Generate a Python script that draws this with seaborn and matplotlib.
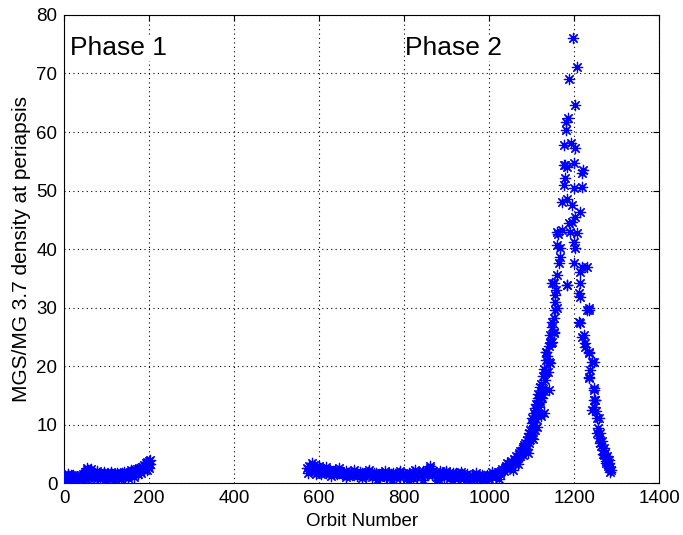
import matplotlib
matplotlib.use("Agg")
import matplotlib.pyplot as plt
import seaborn as sns
import pandas as pd
import numpy as np

# ---- data ----
phase1_orbit = [3, 6, 8, 11, 13, 16, 18, 21, 24, 33, 36, 39, 41, 44, 47, 49, 52, 54, 57, 59,
                62, 64, 67, 70, 72, 75, 78, 80, 83, 86, 88, 91, 94, 96, 99, 102, 104, 107, 110, 112,
                115, 118, 120, 123, 126, 128, 131, 134, 136, 139, 142, 144, 147, 150, 152, 155, 158, 160, 163, 166,
                168, 171, 174, 176, 179, 182, 184, 187, 190, 192, 194, 196, 198, 200, 202,
                5, 10, 15, 20, 38, 46, 51, 56, 61, 66, 74, 82, 90, 98, 106, 114, 122, 130, 138, 146,
                154, 162, 170, 178, 186, 189, 193, 197, 199,
                4, 9, 14, 43, 48, 53, 58, 63, 69, 77, 85, 93, 101, 109, 117, 125, 133, 141, 149, 157,
                165, 173, 181, 188, 195, 201]
phase1_density = [1.2, 0.9, 1.4, 0.8, 1.1, 1.3, 0.7, 1.0, 0.6, 0.5, 0.9, 1.3, 0.8, 1.5, 1.2, 1.9, 1.6, 2.3, 1.8, 2.1,
                  1.5, 1.9, 1.3, 1.7, 1.2, 1.6, 1.4, 1.1, 1.7, 1.3, 1.0, 1.5, 1.2, 1.6, 1.1, 1.4, 0.9, 1.5, 1.2, 1.6,
                  1.0, 1.3, 1.6, 1.1, 1.4, 0.9, 1.5, 1.2, 1.7, 1.3, 1.0, 1.6, 1.3, 1.8, 1.4, 1.9, 1.5, 2.0, 1.7, 2.2,
                  1.8, 2.4, 2.0, 2.6, 2.2, 2.8, 2.4, 3.1, 2.7, 3.4, 2.9, 3.6, 3.1, 2.5, 3.3,
                  0.6, 1.2, 0.9, 1.3, 1.0, 1.0, 1.3, 2.2, 1.8, 1.5, 1.3, 1.5, 1.2, 1.4, 1.2, 1.4, 1.3, 1.2, 1.5, 1.5,
                  1.6, 1.8, 2.0, 2.4, 2.6, 3.0, 3.0, 2.8, 3.7,
                  0.4, 1.6, 0.5, 0.6, 0.7, 2.6, 0.9, 2.4, 0.8, 2.0, 0.7, 1.9, 0.6, 1.9, 0.6, 1.8, 0.7, 1.9, 0.8, 2.3,
                  1.1, 1.5, 1.7, 2.2, 2.3, 4.0]

phase2_orbit = [572, 575, 578, 581, 584, 587, 590, 593, 596, 599, 602, 605, 608, 611, 614, 617, 620, 623, 626, 629,
                632, 635, 638, 641, 644, 647, 650, 653, 656, 659, 662, 665, 668, 671, 674, 677, 680, 683, 686, 689,
                692, 695, 698, 701, 704, 707, 710, 713, 716, 719, 722, 725, 728, 731, 734, 737, 740, 743, 746, 749,
                752, 755, 758, 761, 764, 767, 770, 773, 776, 779, 782, 785, 788, 791, 794, 797, 800, 803, 806, 809,
                812, 815, 818, 821, 824, 827, 830, 833, 836, 839, 842, 845, 848, 851, 854, 857, 860, 863, 866, 869,
                872, 875, 878, 881, 884, 887, 890, 893, 896, 899, 902, 905, 908, 911, 914, 917, 920, 923, 926, 929,
                932, 935, 938, 941, 944, 947, 950, 953, 956, 959, 962, 965, 968, 971, 974, 977, 980, 983, 986, 989,
                992, 995, 998, 1001, 1004, 1007, 1010, 1013, 1016, 1019, 1022, 1025, 1028, 1031, 1034, 1037, 1040, 1043, 1046, 1049,
                1052, 1055, 1058, 1061, 1064, 1067, 1070, 1073, 1076, 1079, 1082, 1085, 1088, 1091, 1094, 1097, 1100, 1102, 1104, 1106,
                1108, 1110, 1112, 1114, 1116, 1118, 1120, 1122, 1124, 1126, 1128, 1131, 1133, 1135, 1135, 1137, 1140, 1141, 1143, 1145,
                1147, 1147, 1149, 1152, 1152, 1154, 1154, 1152, 1156, 1159, 1157, 1160, 1164, 1166, 1166, 1159, 1159, 1171, 1162, 1171,
                1176, 1178, 1176, 1178, 1183, 1176, 1180, 1180, 1185, 1187, 1192, 1183, 1183, 1187, 1190, 1195, 1195, 1197, 1199, 1199,
                1199, 1199, 1201, 1201, 1202, 1202, 1206, 1206, 1211, 1213, 1213, 1213, 1213, 1218, 1218, 1218, 1220, 1213, 1223, 1225,
                1230, 1235, 1235, 1235, 1237, 1242, 1235, 1246, 1249, 1246, 1246, 1254, 1252, 1256, 1258, 1260, 1262, 1265, 1268, 1270,
                1272, 1274, 1276, 1278, 1280, 1282, 1284, 1285, 1283,
                1105, 1110, 1115, 1120, 1125, 1130, 1138, 1107, 1100, 1128, 1119, 1140, 1131, 1143, 1135, 1143, 1152, 1147, 1183,
                1211, 1230, 1218, 1225, 1235, 1246, 1235, 1246, 1249, 1242, 1258, 1254, 1090, 1095, 1098, 1112, 1117, 1122, 1127,
                1264, 1267, 1271, 1275, 1279, 1281, 1286, 580, 600, 640, 700, 760, 820, 880, 940, 1000, 1060, 1066, 1072, 1078, 1084,
                574, 583, 592, 604, 616, 628, 646, 664, 682, 700, 718, 736, 754, 772, 790, 808, 826, 844, 862, 880,
                898, 916, 934, 952, 970, 988, 1006, 1024, 1042, 1056, 1068, 1080, 1092, 1103, 1113, 1123]
phase2_density = [2.6, 3.0, 2.2, 2.8, 2.4, 3.1, 2.5, 2.1, 2.7, 2.3, 2.6, 2.0, 2.4, 1.9, 2.3, 1.8, 2.2, 1.9, 2.3, 1.7,
                  2.1, 1.8, 2.2, 1.6, 2.0, 1.7, 2.1, 1.5, 1.9, 1.6, 2.0, 1.4, 1.8, 1.5, 1.9, 1.3, 1.7, 1.4, 1.8, 1.2,
                  1.6, 1.9, 1.3, 1.7, 1.4, 1.8, 1.2, 1.6, 1.9, 1.3, 1.5, 1.1, 1.7, 1.4, 1.8, 1.2, 1.6, 1.0, 1.5, 1.8,
                  1.2, 1.6, 1.1, 1.4, 1.7, 1.0, 1.5, 1.8, 1.2, 1.6, 0.9, 1.4, 1.7, 1.1, 1.5, 1.8, 1.2, 1.6, 0.9, 1.4,
                  1.8, 1.1, 1.5, 1.9, 1.2, 1.6, 1.0, 1.5, 1.9, 1.3, 1.7, 2.1, 1.5, 2.0, 1.6, 2.3, 2.9, 1.8, 1.4, 2.0,
                  1.5, 1.9, 1.1, 1.6, 2.0, 1.3, 1.7, 1.0, 1.5, 1.9, 1.2, 1.6, 0.9, 1.4, 1.8, 1.1, 1.5, 1.7, 1.0, 1.4,
                  1.2, 1.6, 0.9, 1.3, 1.1, 1.5, 0.8, 1.2, 1.0, 1.4, 0.8, 1.1, 1.3, 0.9, 1.2, 0.8, 1.1, 1.4, 0.9, 1.2,
                  1.0, 1.3, 0.9, 1.2, 1.4, 1.0, 1.3, 1.6, 1.2, 1.5, 1.9, 1.5, 2.0, 2.4, 2.0, 2.6, 3.0, 2.6, 3.3, 3.0,
                  3.7, 3.4, 4.2, 3.8, 4.6, 4.3, 5.1, 5.5, 5.0, 6.1, 6.5, 6.0, 7.3, 7.8, 8.6, 9.0, 10.2, 11.1, 10.5, 12.0,
                  12.9, 13.5, 13.3, 14.6, 15.2, 14.2, 16.5, 17.0, 15.9, 18.3, 19.5, 17.6, 21.0, 19.0, 22.4, 21.8, 20.7, 23.5, 25.3, 24.0,
                  26.7, 24.1, 27.5, 28.2, 25.8, 29.6, 32.1, 34.2, 31.0, 29.9, 33.0, 35.5, 37.6, 38.6, 40.2, 40.7, 42.9, 43.2, 42.5, 48.0,
                  50.9, 52.1, 54.4, 54.4, 54.0, 57.8, 60.3, 61.7, 62.4, 69.0, 58.1, 48.5, 33.8, 44.4, 42.9, 47.5, 44.6, 76.1, 54.7, 50.4,
                  41.2, 37.6, 64.6, 57.3, 45.5, 40.2, 71.1, 42.7, 32.5, 46.3, 36.1, 34.2, 31.8, 53.0, 50.6, 36.9, 53.5, 27.4, 25.3, 23.9,
                  36.9, 29.9, 29.6, 22.4, 19.3, 20.7, 17.9, 16.2, 14.2, 13.0, 14.2, 11.1, 12.3, 9.5, 7.7, 8.6, 6.8, 7.2, 5.6, 6.0,
                  5.1, 4.3, 3.8, 4.6, 3.2, 2.5, 2.7, 1.9, 3.5,
                  9.0, 11.0, 12.5, 13.8, 14.5, 15.8, 19.0, 9.1, 7.7, 12.0, 14.2, 15.9, 18.8, 20.5, 22.4, 23.9, 25.6, 34.2, 33.8,
                  27.5, 29.6, 25.0, 23.2, 22.2, 20.7, 18.1, 15.9, 14.2, 12.5, 11.1, 8.5, 5.8, 6.8, 8.0, 11.8, 13.0, 14.8, 16.0,
                  6.3, 5.0, 4.8, 3.5, 2.9, 3.9, 2.3, 2.0, 2.9, 1.7, 1.3, 1.1, 0.9, 0.9, 0.8, 0.7, 3.2, 4.0, 4.6, 5.3, 6.8,
                  1.7, 3.4, 1.6, 1.5, 2.8, 1.2, 2.5, 1.0, 2.3, 0.8, 2.2, 0.6, 2.1, 0.5, 2.1, 0.4, 2.2, 0.5, 2.5, 0.6,
                  2.1, 0.4, 1.9, 0.4, 1.8, 0.3, 1.9, 0.7, 3.4, 2.2, 3.2, 4.8, 5.2, 7.6, 9.6, 11.5]

df = pd.DataFrame({
    "Orbit Number": phase1_orbit + phase2_orbit,
    "density": phase1_density + phase2_density,
})

x_ticks = [0, 200, 400, 600, 800, 1000, 1200, 1400]
y_ticks = [0, 10, 20, 30, 40, 50, 60, 70, 80]
phase_labels = ["Phase 1", "Phase 2"]
phase_label_x = [14, 803]

# ---- plot ----
sns.set_theme(style="white")
plt.rcParams["font.family"] = ["Liberation Sans", "DejaVu Sans"]

fig = plt.figure(figsize=(6.83, 5.35), dpi=100)
ax = fig.add_axes([0.094, 0.097, 0.871, 0.875])

sns.scatterplot(data=df, x="Orbit Number", y="density", ax=ax,
                marker=(8, 2, 0), color="#0000ff", s=55, linewidth=0.9,
                legend=False, zorder=3)

ax.set_xlim(0, 1400)
ax.set_ylim(0, 80)
ax.set_xticks(x_ticks)
ax.set_yticks(y_ticks)
ax.tick_params(direction="in", length=4, width=0.8, top=True, right=True,
               labelsize=13.5, colors="black", pad=5)
ax.grid(True, linestyle=(0, (1, 3)), color="black", linewidth=0.8)
for sp in ax.spines.values():
    sp.set_color("black")
    sp.set_linewidth(0.8)
ax.set_xlabel("Orbit Number", fontsize=13.5, labelpad=4, color="black")
ax.set_ylabel("MGS/MG 3.7 density at periapsis", fontsize=15, labelpad=4, color="black")

for lab, lx in zip(phase_labels, phase_label_x):
    ax.text(lx, 74.3, lab, fontsize=19, va="center", ha="left", color="black",
            bbox=dict(facecolor="white", edgecolor="none", pad=0.5), zorder=4)

fig.savefig("out.png", dpi=100)
